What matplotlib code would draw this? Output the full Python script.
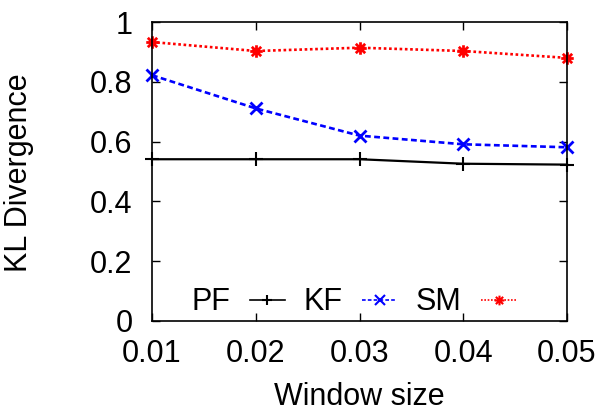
import matplotlib
matplotlib.use("Agg")
import matplotlib.pyplot as plt
from matplotlib.path import Path

window = [0.01, 0.02, 0.03, 0.04, 0.05]
pf = [0.541, 0.541, 0.541, 0.526, 0.523]
kf = [0.822, 0.711, 0.620, 0.591, 0.581]
sm = [0.933, 0.903, 0.914, 0.903, 0.880]
xticks = [0.01, 0.02, 0.03, 0.04, 0.05]
xticklabels = ["0.01", "0.02", "0.03", "0.04", "0.05"]
yticks = [0, 0.2, 0.4, 0.6, 0.8, 1]
yticklabels = ["0", "0.2", "0.4", "0.6", "0.8", "1"]

# gnuplot-style asterisk: plus overlaid with cross
star = Path([(-1, 0), (1, 0), (0, -1), (0, 1),
             (-0.75, -0.75), (0.75, 0.75), (-0.75, 0.75), (0.75, -0.75)],
            [Path.MOVETO, Path.LINETO] * 4)

plt.rcParams['font.family'] = ['Liberation Sans', 'DejaVu Sans']
fig = plt.figure(figsize=(6.03, 4.12), dpi=100)
ax = fig.add_axes([152/603, 1-321/412, (567-152)/603, (321-22)/412])

ax.plot(window, pf, color='black', lw=1.6, ls='-', marker='+', ms=10, mew=1.5,
        label='PF', clip_on=False)
ax.plot(window, kf, color='blue', lw=1.9, ls=(0, (2.2, 1.3)), marker='x', ms=8, mew=2,
        label='KF', clip_on=False)
ax.plot(window, sm, color='red', lw=1.9, ls=(0, (1, 1)), marker=star, ms=9, mew=2,
        label='SM', clip_on=False)

ax.set_xlim(0.01, 0.05)
ax.set_ylim(0, 1)
ax.set_xticks(xticks)
ax.set_xticklabels(xticklabels)
ax.set_yticks(yticks)
ax.set_yticklabels(yticklabels)
ax.tick_params(direction='in', top=True, right=True, length=6, width=1,
               labelsize=22)
ax.tick_params(axis='x', pad=13)
ax.tick_params(axis='y', pad=14)
for s in ax.spines.values():
    s.set_linewidth(1.2)
ax.set_xlabel('Window size', fontsize=22)
ax.set_ylabel('KL Divergence', fontsize=22)
ax.xaxis.set_label_coords(0.5, -0.205)
ax.yaxis.set_label_coords(-0.285, 0.497)

leg = ax.legend(loc='center left', ncol=3, frameon=False, markerfirst=False,
                fontsize=22, handlelength=1.15, columnspacing=0.6, handletextpad=0.65,
                bbox_to_anchor=(0.094, 0.062), borderaxespad=0, borderpad=0)
for h in leg.get_lines():
    h.set_linewidth(1.2)
    h.set_markersize(7)
    h.set_markeredgewidth(1.5)

fig.savefig('out.png', dpi=100)
